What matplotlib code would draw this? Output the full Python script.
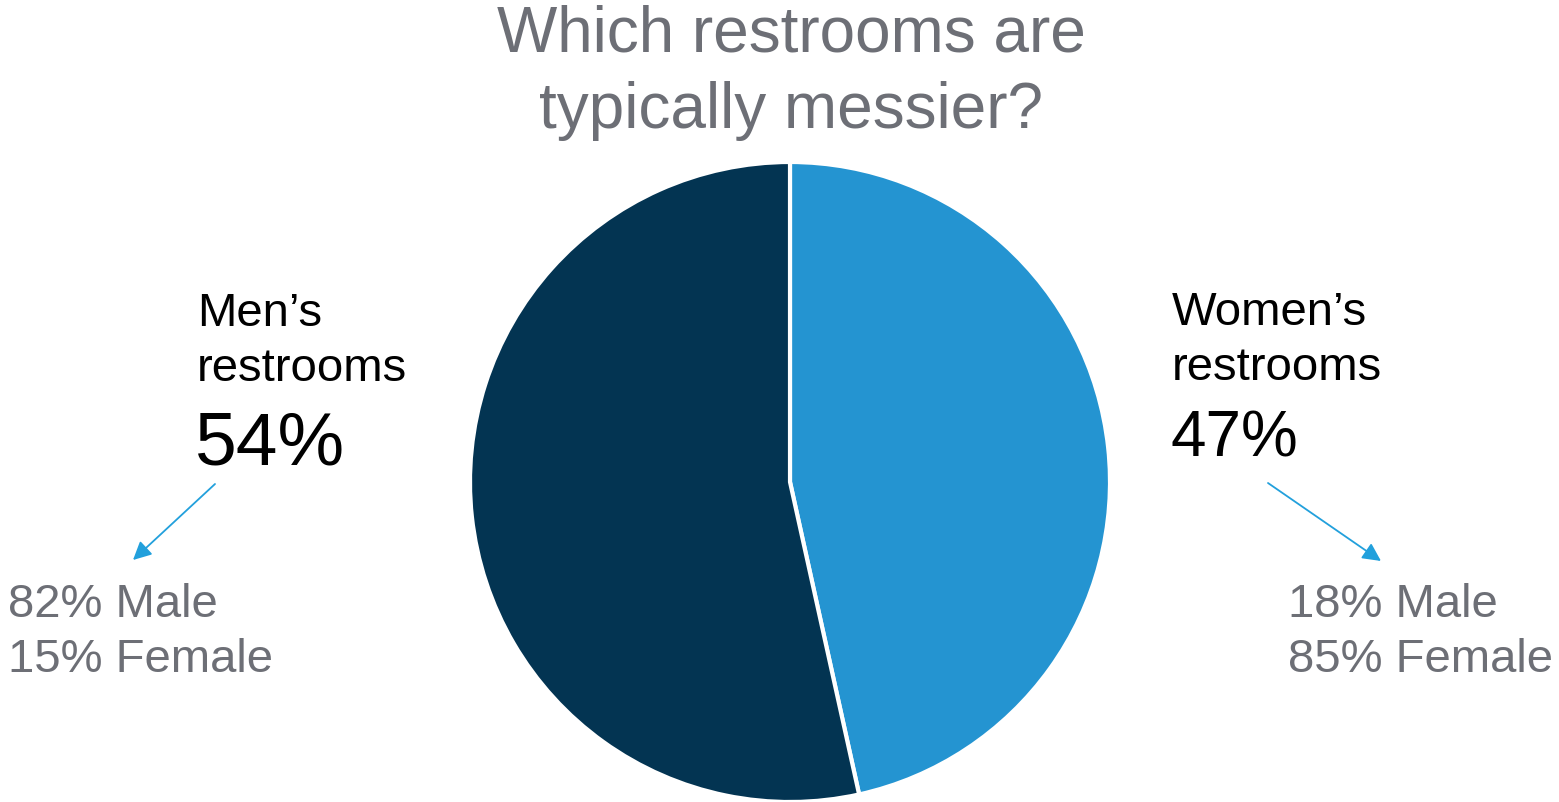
import matplotlib
matplotlib.use("Agg")
import matplotlib.pyplot as plt

# Survey shares
categories = ["Women's restrooms", "Men's restrooms"]
shares = [47, 54]
breakdown_men = ["82% Male", "15% Female"]
breakdown_women = ["18% Male", "85% Female"]
title_lines = ["Which restrooms are", "typically messier?"]

W, H = 1559, 803
fig = plt.figure(figsize=(W / 100, H / 100), dpi=100)
plt.rcParams['font.family'] = ['Liberation Sans', 'DejaVu Sans']

NAVY = "#033452"
BLUE = "#2494d1"
GREY = "#6d6f76"
ARROW = "#22a0dc"

# Pie axes in pixel placement
cx, cy, r = 790, 483, 320
ax = fig.add_axes([(cx - r) / W, (H - cy - r) / H, 2 * r / W, 2 * r / H])
ax.pie(shares, colors=[BLUE, NAVY], startangle=90, counterclock=False,
       wedgeprops=dict(edgecolor="white", linewidth=3))
ax.set_xlim(-1, 1)
ax.set_ylim(-1, 1)
ax.set_aspect("equal")
ax.axis("off")

# Overlay axes in pixel coordinates for text and arrows
ov = fig.add_axes([0, 0, 1, 1], facecolor="none")
ov.set_xlim(0, W)
ov.set_ylim(H, 0)
ov.axis("off")

ov.text(791, 52, title_lines[0], ha="center", va="baseline",
        fontsize=46, color=GREY)
ov.text(791, 128, title_lines[1], ha="center", va="baseline",
        fontsize=46, color=GREY)

LBL = 34
ov.text(197, 326, "Men\u2019s", fontsize=LBL, color="black", va="baseline")
ov.text(197, 381, "restrooms", fontsize=LBL, color="black", va="baseline")
ov.text(195, 465, f"{shares[1]}%", fontsize=54, color="black", va="baseline")

ov.text(1172, 325, "Women\u2019s", fontsize=LBL, color="black", va="baseline")
ov.text(1172, 380, "restrooms", fontsize=LBL, color="black", va="baseline")
ov.text(1171, 457, f"{shares[0]}%", fontsize=46, color="black", va="baseline")

ov.text(8, 617, breakdown_men[0], fontsize=LBL, color=GREY, va="baseline")
ov.text(8, 672, breakdown_men[1], fontsize=LBL, color=GREY, va="baseline")
ov.text(1288, 617, breakdown_women[0], fontsize=LBL, color=GREY, va="baseline")
ov.text(1288, 672, breakdown_women[1], fontsize=LBL, color=GREY, va="baseline")

arrow_kw = dict(arrowstyle="-|>,head_length=1.1,head_width=0.55",
                color=ARROW, lw=1.3, shrinkA=0, shrinkB=0)
ov.annotate("", xy=(133, 561), xytext=(215, 485), arrowprops=arrow_kw)
ov.annotate("", xy=(1381, 562), xytext=(1268, 484), arrowprops=arrow_kw)

fig.savefig("out.png", dpi=100)
